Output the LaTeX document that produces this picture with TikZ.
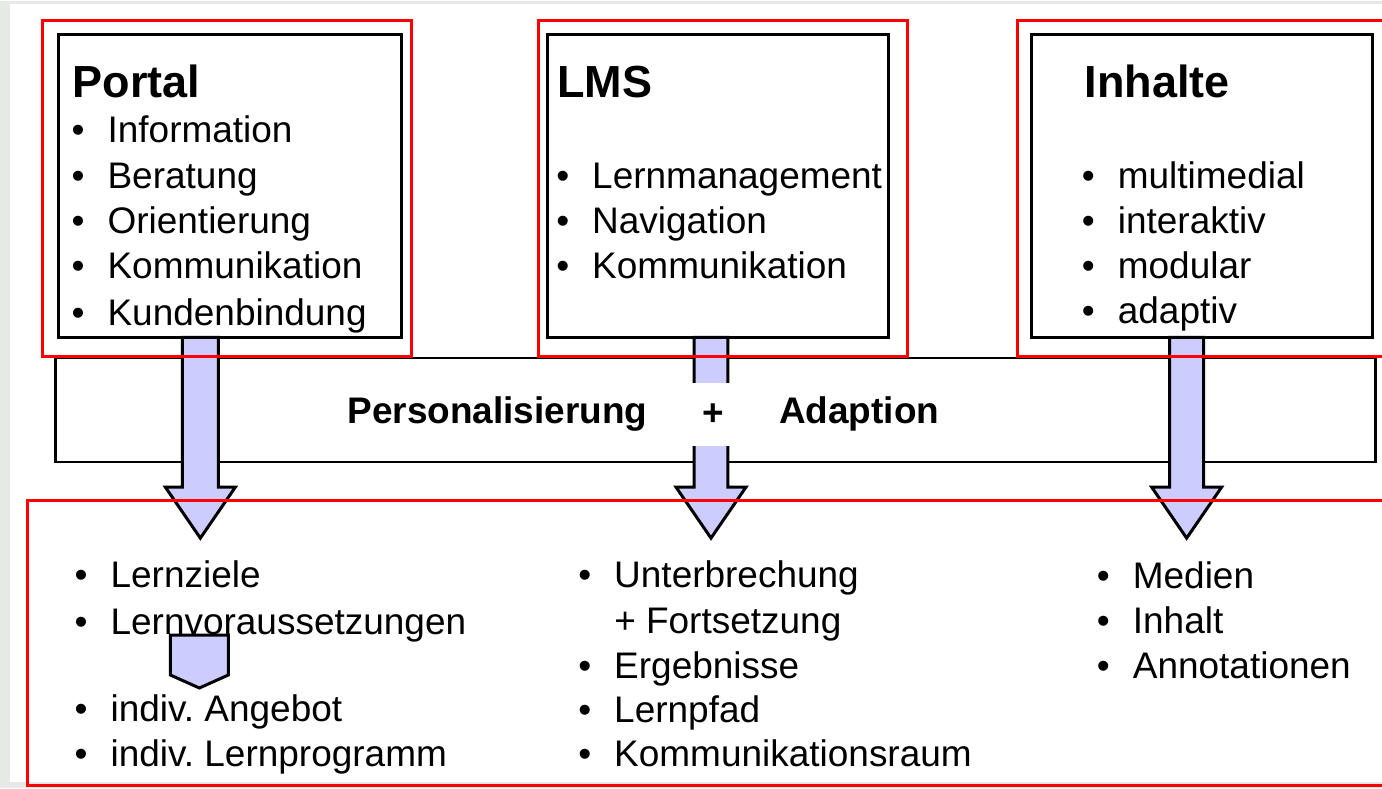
\documentclass[tikz,border=0pt]{standalone}
\usepackage{fontspec}
\setmainfont{Liberation Sans}
\usepackage[svgnames]{xcolor}
\usepackage{tikz}
\frenchspacing
\definecolor{PaleBg}{HTML}{E6E9E6}
\definecolor{ArrowFill}{HTML}{CCCCFF}
\newcommand{\itm}{\makebox[36bp][l]{\textbullet}}
\tikzstyle{none}=[inner sep=0pt]
\tikzstyle{txt}=[inner sep=0pt,anchor=base west,font=\fontsize{37bp}{44bp}\selectfont]
\tikzstyle{heading}=[inner sep=0pt,anchor=base west,font=\fontsize{45bp}{52bp}\selectfont\bfseries]
\tikzstyle{boldtxt}=[inner sep=0pt,anchor=base west,font=\fontsize{37bp}{44bp}\selectfont\bfseries]
\tikzstyle{blackbox}=[draw=Black,line width=3bp]
\tikzstyle{thinbox}=[draw=Black,line width=2.2bp]
\tikzstyle{redbox}=[draw=Red,line width=3bp]
\tikzstyle{blockarrow}=[draw=Black,fill=ArrowFill,line width=3bp,line join=miter]

\begin{document}
\begin{tikzpicture}[x=1bp,y=-1bp]
  \node [style=none] (0) at (0, 0) {};
  \node [style=none] (1) at (1382, 788) {};
  \useasboundingbox (0.center) rectangle (1.center);
  \node [style=none] (2) at (10, 4) {};
  \node [style=none] (3) at (1382, 782) {};
  \node [style=none] (4) at (55, 358) {};
  \node [style=none] (5) at (1376, 462) {};
  \node [style=none] (6) at (58, 34) {};
  \node [style=none] (7) at (401, 337) {};
  \node [style=none] (8) at (547, 34) {};
  \node [style=none] (9) at (889, 337) {};
  \node [style=none] (10) at (1032, 34) {};
  \node [style=none] (11) at (1373, 337) {};
  \node [style=none] (12) at (42, 20) {};
  \node [style=none] (13) at (411, 356) {};
  \node [style=none] (14) at (538, 20) {};
  \node [style=none] (15) at (908, 356) {};
  \node [style=none] (16) at (1018, 20) {};
  \node [style=none] (17) at (1392, 356) {};
  \node [style=none] (18) at (27, 500) {};
  \node [style=none] (19) at (1392, 786) {};
  \node [style=none] (20) at (182, 337) {};
  \node [style=none] (21) at (182, 487) {};
  \node [style=none] (22) at (165, 487) {};
  \node [style=none] (23) at (200, 538) {};
  \node [style=none] (24) at (235, 487) {};
  \node [style=none] (25) at (218, 487) {};
  \node [style=none] (26) at (218, 337) {};
  \node [style=none] (27) at (694, 337) {};
  \node [style=none] (28) at (694, 487) {};
  \node [style=none] (29) at (676, 487) {};
  \node [style=none] (30) at (711, 538) {};
  \node [style=none] (31) at (746, 487) {};
  \node [style=none] (32) at (728, 487) {};
  \node [style=none] (33) at (728, 337) {};
  \node [style=none] (34) at (1170, 337) {};
  \node [style=none] (35) at (1170, 487) {};
  \node [style=none] (36) at (1152, 487) {};
  \node [style=none] (37) at (1187, 538) {};
  \node [style=none] (38) at (1222, 487) {};
  \node [style=none] (39) at (1204, 487) {};
  \node [style=none] (40) at (1204, 337) {};
  \node [style=none] (41) at (170, 635) {};
  \node [style=none] (42) at (170, 675) {};
  \node [style=none] (43) at (199, 688) {};
  \node [style=none] (44) at (228, 675) {};
  \node [style=none] (45) at (228, 635) {};
  % background
  \fill [PaleBg] (0.center) rectangle (1.center);
  \fill [White] (2.center) rectangle (3.center);
  \draw [style=thinbox] (4.center) rectangle (5.center);
  % block arrows
  \draw [style=blockarrow] (20.center) -- (21.center) -- (22.center) -- (23.center) -- (24.center) -- (25.center) -- (26.center) -- cycle;
  \draw [style=blockarrow] (27.center) -- (28.center) -- (29.center) -- (30.center) -- (31.center) -- (32.center) -- (33.center) -- cycle;
  \draw [style=blockarrow] (34.center) -- (35.center) -- (36.center) -- (37.center) -- (38.center) -- (39.center) -- (40.center) -- cycle;
  \draw [style=blockarrow] (41.center) -- (42.center) -- (43.center) -- (44.center) -- (45.center) -- cycle;
  % boxes
  \draw [style=blackbox] (6.center) rectangle (7.center);
  \draw [style=blackbox] (8.center) rectangle (9.center);
  \draw [style=blackbox] (10.center) rectangle (11.center);
  \draw [style=redbox] (12.center) rectangle (13.center);
  \draw [style=redbox] (14.center) rectangle (15.center);
  \draw [style=redbox] (16.center) rectangle (17.center);
  \draw [style=redbox] (18.center) rectangle (19.center);
  % texts
  \node [style=heading] (46) at (72, 97) {Portal};
  \node [style=txt] (47) at (71, 142) {\itm Information};
  \node [style=txt] (48) at (71, 188) {\itm Beratung};
  \node [style=txt] (49) at (71, 233) {\itm Orientierung};
  \node [style=txt] (50) at (71, 278) {\itm Kommunikation};
  \node [style=txt] (51) at (71, 325) {\itm Kundenbindung};
  \node [style=heading] (52) at (557, 97) {LMS};
  \node [style=txt] (53) at (556, 188) {\itm Lernmanagement};
  \node [style=txt] (54) at (556, 233) {\itm Navigation};
  \node [style=txt] (55) at (556, 278) {\itm Kommunikation};
  \node [style=heading] (56) at (1085, 97) {Inhalte};
  \node [style=txt] (57) at (1082, 188) {\itm multimedial};
  \node [style=txt] (58) at (1082, 233) {\itm interaktiv};
  \node [style=txt] (59) at (1082, 278) {\itm modular};
  \node [style=txt] (60) at (1082, 323) {\itm adaptiv};
  \node [style=boldtxt] (61) at (347, 423) {Personalisierung};
  \node [fill=White,inner sep=0pt,minimum width=44bp,minimum height=63bp,font=\fontsize{37bp}{44bp}\selectfont\bfseries] (62) at (713, 414) {+};
  \node [style=boldtxt] (63) at (779, 423) {Adaption};
  \node [style=txt] (64) at (74, 587) {\itm Lernziele};
  \node [style=txt] (65) at (74, 634) {\itm Lernvoraussetzungen};
  \node [style=txt] (66) at (74, 722) {\itm indiv. Angebot};
  \node [style=txt] (67) at (74, 767) {\itm indiv. Lernprogramm};
  \node [style=txt] (68) at (578, 587) {\itm Unterbrechung};
  \node [style=txt] (69) at (614, 633) {+ Fortsetzung};
  \node [style=txt] (70) at (578, 678) {\itm Ergebnisse};
  \node [style=txt] (71) at (578, 723) {\itm Lernpfad};
  \node [style=txt] (72) at (578, 767) {\itm Kommunikationsraum};
  \node [style=txt] (73) at (1097, 588) {\itm Medien};
  \node [style=txt] (74) at (1097, 633) {\itm Inhalt};
  \node [style=txt] (75) at (1097, 678) {\itm Annotationen};
\end{tikzpicture}
\end{document}
